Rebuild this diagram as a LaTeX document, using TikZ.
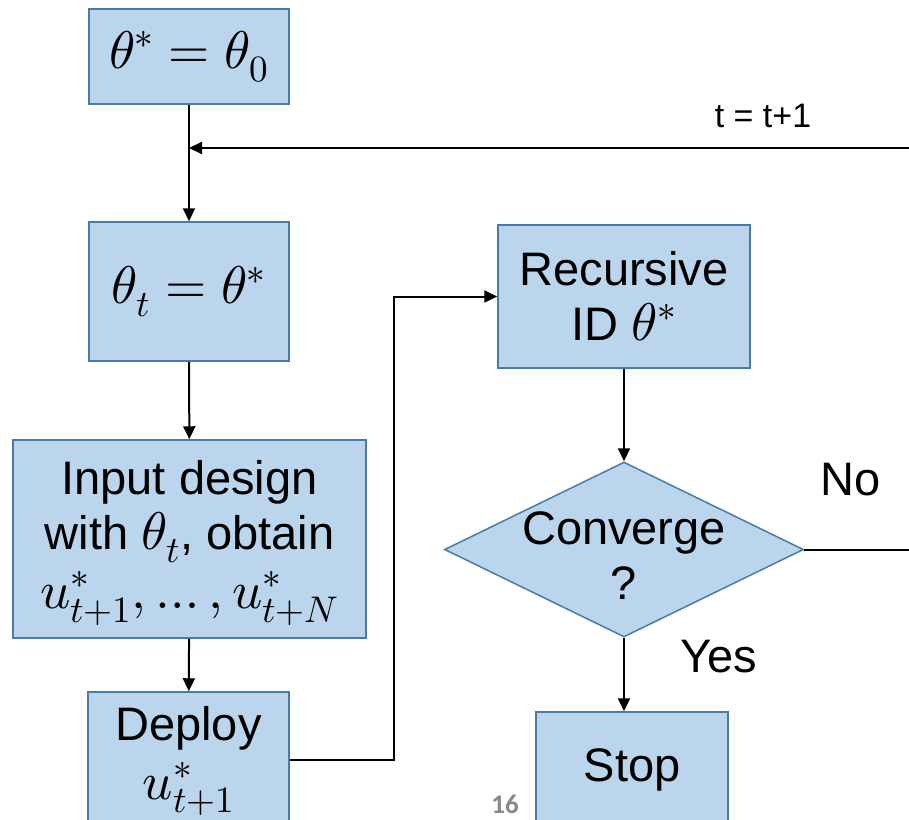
\documentclass[tikz,border=0pt]{standalone}
\usepackage{fontspec}
\usepackage{unicode-math}
\setmainfont{Liberation Sans}
\setmathfont{Latin Modern Math}
\newfontfamily\pagenumfont{Carlito}
\usetikzlibrary{shapes.geometric,arrows.meta}
\definecolor{boxfill}{RGB}{187,214,236}
\definecolor{boxline}{RGB}{74,122,168}
\definecolor{pagegray}{RGB}{137,137,137}
% formulas are set a little larger than the surrounding text
\newcommand\mth[1]{{\fontsize{53}{55}\selectfont$#1$}}

\begin{document}
\begin{tikzpicture}[x=1pt,y=-1pt,
  bigfont/.style={font=\fontsize{47}{55}\selectfont},
  box/.style={draw=boxline,fill=boxfill,line width=1.5pt,inner sep=0pt,align=center,bigfont},
  decision/.style={diamond,draw=boxline,fill=boxfill,line width=1.5pt,inner sep=0pt},
  txt/.style={align=center,bigfont,inner sep=0pt},
  flow/.style={line width=2pt,-{Triangle[length=13pt,width=12pt]}},
  link/.style={line width=2pt}]
\useasboundingbox (0,0) rectangle (909,819);
\begin{scope}
\clip (0,0) rectangle (909,819);

% process boxes
\node[box,minimum width=200pt,minimum height=95pt] (init) at (189,56.5) {\mth{\theta^{*}=\theta_{0}}};
\node[box,minimum width=200pt,minimum height=139pt] (assign) at (189,291.5) {\mth{\theta_{t}=\theta^{*}}};
\node[box,minimum width=353pt,minimum height=198pt] (design) at (189.5,539) {};
\node[txt] (designtext) at (189.5,543)
  {Input design\\with \mth{\theta_{t}}, obtain\\[4pt]\mth{u^{*}_{t+1},\ldots,u^{*}_{t+N}}};
\node[box,minimum width=201pt,minimum height=136pt] (deploy) at (188.5,760) {};
\node[txt] (deploytext) at (188.5,761) {Deploy\\[4pt]\mth{u^{*}_{t+1}}};
\node[box,minimum width=252pt,minimum height=143pt] (recid) at (624,296.5) {Recursive\\ID \mth{\theta^{*}}};
\node[decision,minimum width=359pt,minimum height=175pt] (conv) at (624,549.5) {};
\node[txt] (convtext) at (624,556) {Converge\\?};
\node[box,minimum width=192pt,minimum height=116pt] (stop) at (632,770) {Stop};

% loop points
\coordinate (merge) at (189,148);
\coordinate (looptop) at (930,148);

% connectors
\draw[flow] (init) -- (assign);
\draw[flow] (conv.east) -| (looptop) -- (merge);
\draw[flow] (assign) -- (design);
\draw[flow] (design) -- (deploy);
\draw[flow] (deploy.east) -- ++(104,0) |- (recid.west);
\draw[flow] (recid) -- (conv.north);
\draw[flow] (conv.south) -- (stop.north -| conv.south);

% labels
\node[txt,font=\fontsize{34}{40}\selectfont] (inc) at (763,116) {t = t+1};
\node[txt] (nolab) at (851,480) {No};
\node[txt] (yeslab) at (719,657) {Yes};
\node[inner sep=0pt,text=pagegray,font=\pagenumfont\bfseries\fontsize{27}{30}\selectfont] (pagenum) at (505,804) {16};
\end{scope}
\end{tikzpicture}
\end{document}
